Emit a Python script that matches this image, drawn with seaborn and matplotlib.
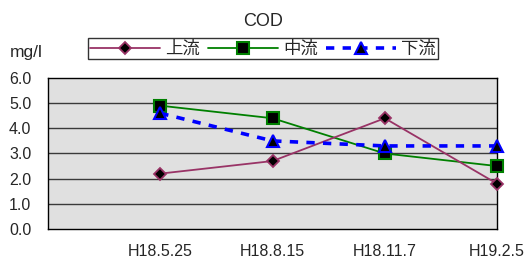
import pandas as pd
import matplotlib
matplotlib.use('Agg')
import matplotlib.pyplot as plt
import seaborn as sns

# data
dates = ['H18.5.25', 'H18.8.15', 'H18.11.7', 'H19.2.5']
upstream = [2.2, 2.7, 4.4, 1.8]     # 上流
midstream = [4.9, 4.4, 3.0, 2.5]    # 中流
downstream = [4.6, 3.5, 3.3, 3.3]   # 下流
yticks = [0.0, 1.0, 2.0, 3.0, 4.0, 5.0, 6.0]

sns.set_style('white')
plt.rcParams['font.family'] = ['Liberation Sans', 'Noto Sans CJK JP']

df = pd.DataFrame({
    'pos': range(1, len(dates) + 1),
    '上流': upstream,
    '中流': midstream,
    '下流': downstream,
})

fig = plt.figure(figsize=(5.26, 2.64), dpi=100)
ax = fig.add_axes([0.0913, 0.1326, 0.8537, 0.572])
ax.set_facecolor('#e0e0e0')

sns.lineplot(data=df, x='pos', y='上流', ax=ax, color='#993366', linewidth=1.3,
             marker='D', markersize=6, markerfacecolor='black',
             markeredgecolor='#993366', markeredgewidth=1.3, label='上流', zorder=4)
sns.lineplot(data=df, x='pos', y='中流', ax=ax, color='#008000', linewidth=1.3,
             marker='s', markersize=8, markerfacecolor='black',
             markeredgecolor='#008000', markeredgewidth=1.5, label='中流', zorder=3)
sns.lineplot(data=df, x='pos', y='下流', ax=ax, color='#0000ff', linewidth=2.6,
             dashes=(2.3, 2.3), marker='^', markersize=8, markerfacecolor='black',
             markeredgecolor='#0000ff', markeredgewidth=1.5, label='下流', zorder=5)
for ln in ax.lines:
    ln.set_clip_on(False)

ax.set_xlim(0, len(dates))
ax.set_ylim(0, 6)
ax.set_xticks(range(1, len(dates) + 1))
ax.set_xticklabels(dates, fontsize=11.5)
ax.set_yticks(yticks)
ax.set_yticklabels([f'{v:.1f}' for v in yticks], fontsize=11.5)
ax.tick_params(axis='x', direction='in', length=5, pad=11, color='black')
ax.tick_params(axis='y', length=0, pad=12)
ax.set_xlabel('')
ax.set_ylabel('')
for v in yticks[1:-1]:
    ax.axhline(v, color='#3a3a3a', linewidth=1, zorder=1)
for s in ax.spines.values():
    s.set_color('black')
    s.set_linewidth(1)

fig.text(0.5, 0.92, 'COD', ha='center', va='center', fontsize=13)
fig.text(0.019, 0.80, 'mg/l', ha='left', va='center', fontsize=12.5)

ax.get_legend().remove()
handles, labels = ax.get_legend_handles_labels()
leg = fig.legend(handles, labels, ncol=3, loc='center', bbox_to_anchor=(0.5, 0.816),
                 fontsize=12.5, frameon=True, fancybox=False, edgecolor='black',
                 handlelength=4.0, handletextpad=0.3, columnspacing=0.5,
                 borderpad=0.15)
leg.get_frame().set_linewidth(1)

fig.savefig('out.png', dpi=100)
